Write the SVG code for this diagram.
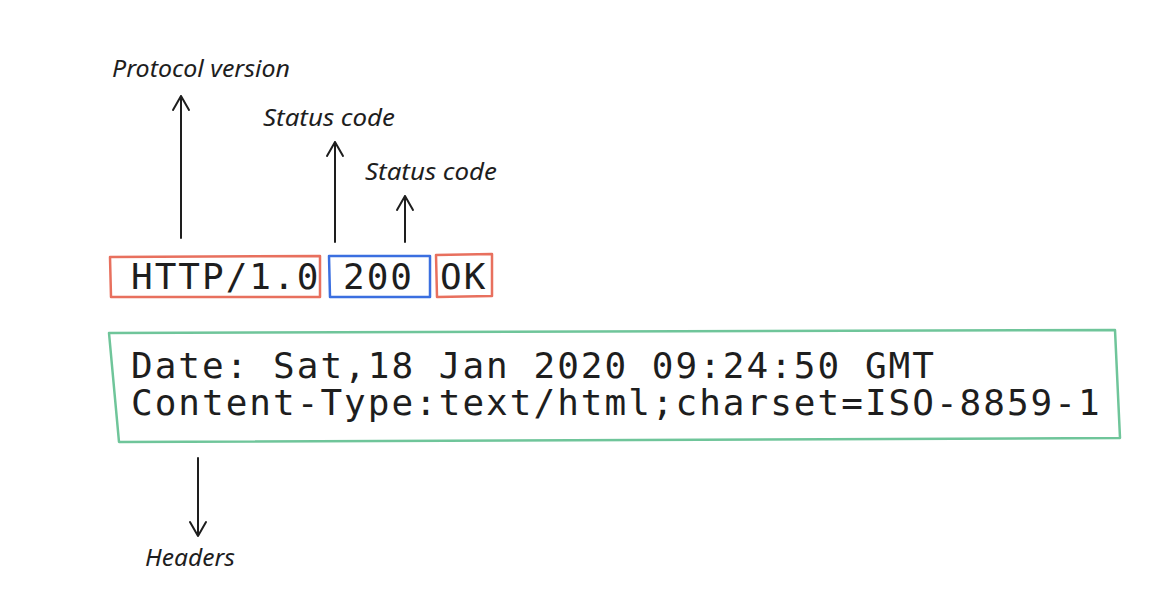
<svg xmlns="http://www.w3.org/2000/svg" width="1172" height="610" viewBox="0 0 1172 610">
<style>
.mono{font-family:"DejaVu Sans Mono","Liberation Mono",monospace;font-size:36px;letter-spacing:2px;fill:#1e1e1e}
.hand{font-family:"Noto Sans","Liberation Sans",sans-serif;font-style:italic;font-size:24px;fill:#1e1e1e}
.box{fill:none;stroke-width:2.5;stroke-linejoin:round}
.arrow{fill:none;stroke:#1e1e1e;stroke-width:2;stroke-linecap:round;stroke-linejoin:round}
</style>
<rect width="1172" height="610" fill="#ffffff"/>
<g id="connectors">
<path class="arrow" d="M181 238 L181 96 M173 110 L181 96 L189 110"/>
<path class="arrow" d="M335 242 L335 142 M327 156 L335 142 L343 156"/>
<path class="arrow" d="M405 242 L405 196 M397 210 L405 196 L413 210"/>
<path class="arrow" d="M198 458 L198 536 M190 522 L198 536 L206 522"/>
</g>
<g id="protocol-version-label"><text class="hand" x="112" y="77" textLength="178" lengthAdjust="spacingAndGlyphs">Protocol version</text></g>
<g id="status-code-label-1"><text class="hand" x="263" y="126" textLength="132" lengthAdjust="spacingAndGlyphs">Status code</text></g>
<g id="status-code-label-2"><text class="hand" x="365" y="180" textLength="132" lengthAdjust="spacingAndGlyphs">Status code</text></g>
<g id="headers-label"><text class="hand" x="145" y="566" textLength="90" lengthAdjust="spacingAndGlyphs">Headers</text></g>
<g id="http-version">
<path class="box" stroke="#e8705e" d="M110 257 L320 256 L320 297 L111 297 Z"/>
<text class="mono" x="131" y="289">HTTP/1.0</text>
</g>
<g id="status-code">
<path class="box" stroke="#3b6fe0" d="M329 256 L430 256 L430 297 L330 297 Z"/>
<text class="mono" x="343" y="289">200</text>
</g>
<g id="status-text">
<path class="box" stroke="#e8705e" d="M436 255 L492 254 L492 296 L437 297 Z"/>
<text class="mono" x="440" y="289">OK</text>
</g>
<g id="headers">
<path class="box" stroke="#6fc59a" d="M109 333 L1115 330 L1120 438 L119 442 Z"/>
<text class="mono" x="131" y="378">Date: Sat,18 Jan 2020 09:24:50 GMT</text>
<text class="mono" x="131" y="415">Content-Type:text/html;charset=ISO-8859-1</text>
</g>
</svg>
